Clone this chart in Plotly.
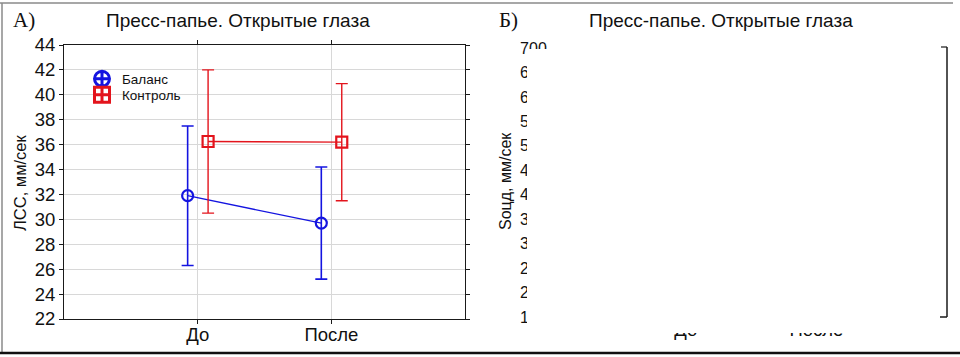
import plotly.graph_objects as go

# ---------------- data ----------------
categories = ["До", "После"]
balance_mean = [31.9, 29.7]
balance_err = [5.6, 4.5]
control_mean = [36.25, 36.2]
control_err = [5.75, 4.7]
series_names = ["Баланс", "Контроль"]
yA_ticks = [22, 24, 26, 28, 30, 32, 34, 36, 38, 40, 42, 44]
yB_ticks = [150, 200, 250, 300, 350, 400, 450, 500, 550, 600, 650, 700]
title_text = "Пресс-папье. Открытые глаза"
ytitle_A = "ЛСС, мм/сек"
ytitle_B = "Sоцд, мм/сек"

W, H = 960, 357
BLUE = "#1414e0"
RED = "#e3141c"
FONT = "Liberation Sans, Arial, sans-serif"

def px(x):
    return x / W

def py(y):
    return 1 - y / H

cat_pos = [1, 2]
dx_blue, dx_red = -0.075, 0.078

fig = go.Figure()

# Panel A traces
fig.add_trace(go.Scatter(
    x=[c + dx_blue for c in cat_pos], y=balance_mean,
    mode="lines+markers", name=series_names[0], showlegend=False,
    line=dict(color=BLUE, width=1.3),
    marker=dict(symbol="circle-open", size=11, color=BLUE, line=dict(width=2.2, color=BLUE)),
    error_y=dict(type="data", array=balance_err, visible=True, color=BLUE, thickness=1.6, width=6),
    xaxis="x", yaxis="y"))
fig.add_trace(go.Scatter(
    x=[c + dx_red for c in cat_pos], y=control_mean,
    mode="lines+markers", name=series_names[1], showlegend=False,
    line=dict(color=RED, width=1.3),
    marker=dict(symbol="square-open", size=11, color=RED, line=dict(width=2.2, color=RED)),
    error_y=dict(type="data", array=control_err, visible=True, color=RED, thickness=1.4, width=6),
    xaxis="x", yaxis="y"))

# legend-only entries
fig.add_trace(go.Scatter(
    x=[None], y=[None], mode="markers", name=series_names[0], legend="legend",
    marker=dict(symbol="circle-cross-open", size=15, color=BLUE, line=dict(width=3, color=BLUE)),
    xaxis="x", yaxis="y"))
fig.add_trace(go.Scatter(
    x=[None], y=[None], mode="markers", name=series_names[1], legend="legend2",
    marker=dict(symbol="square-cross-open", size=15, color=RED, line=dict(width=3, color=RED)),
    xaxis="x", yaxis="y"))

# Panel B (empty axes)
fig.add_trace(go.Scatter(x=[None], y=[None], mode="markers", showlegend=False,
                         xaxis="x2", yaxis="y2"))

grid = "#d8d8d8"
axis_common = dict(showline=True, linecolor="#1a1a1a", linewidth=1, mirror="ticks",
                   ticks="outside", ticklen=4, tickcolor="#1a1a1a", automargin=False,
                   tickfont=dict(family=FONT, size=18.5, color="#111"),
                   gridcolor=grid, gridwidth=1, zeroline=False)

fig.update_layout(
    template="none",
    width=W, height=H, autosize=False,
    margin=dict(l=0, r=0, t=0, b=0, pad=0, autoexpand=False),
    paper_bgcolor="white", plot_bgcolor="white",
    font=dict(family=FONT, color="#111"),
    xaxis=dict(domain=[px(64), px(465)], range=[0, 3], tickvals=cat_pos, ticktext=categories,
               showgrid=True, anchor="y", ticklabelstandoff=-5, **axis_common),
    yaxis=dict(domain=[py(319), py(45)], range=[22, 44], tickvals=yA_ticks,
               showgrid=True, anchor="x", **axis_common),
    xaxis2=dict(domain=[px(555), px(947)], range=[0, 3], tickvals=cat_pos, ticktext=categories,
                showgrid=False, showline=False, zeroline=False, ticks="", anchor="y2",
                automargin=False, ticklabelstandoff=-1,
                tickfont=dict(family=FONT, size=18.5, color="#111")),
    yaxis2=dict(domain=[py(317), py(48)], range=[150, 700], tickvals=yB_ticks,
                showgrid=False, showline=False, zeroline=False, ticks="outside", ticklen=4,
                tickcolor="white", anchor="x2", automargin=False,
                tickfont=dict(family=FONT, size=16, color="#111")),
    legend=dict(x=px(82), y=py(79), xanchor="left", yanchor="middle",
                font=dict(family=FONT, size=13.5, color="#111"), bgcolor="rgba(0,0,0,0)",
                borderwidth=0, itemsizing="trace"),
    legend2=dict(x=px(82), y=py(95), xanchor="left", yanchor="middle",
                 font=dict(family=FONT, size=13.5, color="#111"), bgcolor="rgba(0,0,0,0)",
                 borderwidth=0, itemsizing="trace"),
)

def ann(text, x, y, size, family=FONT, angle=0):
    return dict(text=text, x=px(x), y=py(y), xref="paper", yref="paper", showarrow=False,
                xanchor="center", yanchor="middle", textangle=angle,
                font=dict(family=family, size=size, color="#111"))

SERIF = "Liberation Serif, Times New Roman, serif"
annotations = [
    ann("А)", 24, 20, 21, SERIF),
    ann("Б)", 508, 20, 21, SERIF),
    ann(title_text, 238, 20, 19),
    ann(title_text, 721, 20, 19),
    ann(ytitle_A, 20, 183, 16.5, angle=-90),
    ann(ytitle_B, 505, 181, 16, angle=-90),
]
fig.update_layout(annotations=annotations)

shapes = [
    # white cover over panel B
    dict(type="rect", xref="paper", yref="paper", x0=px(527), x1=px(941), y0=py(333), y1=py(49),
         fillcolor="white", line=dict(width=0), layer="above"),
    # panel B right border with corners
    dict(type="line", xref="paper", yref="paper", x0=px(947), x1=px(947), y0=py(317), y1=py(47),
         line=dict(color="#1a1a1a", width=1.5), layer="above"),
    dict(type="line", xref="paper", yref="paper", x0=px(941), x1=px(947), y0=py(47), y1=py(47),
         line=dict(color="#1a1a1a", width=1.2), layer="above"),
    dict(type="line", xref="paper", yref="paper", x0=px(940), x1=px(947), y0=py(317), y1=py(317),
         line=dict(color="#1a1a1a", width=1.5), layer="above"),
    # outer frame
    dict(type="line", xref="paper", yref="paper", x0=0, x1=px(953), y0=py(3), y1=py(3),
         line=dict(color="#8a8a8a", width=1.5), layer="above"),
    dict(type="line", xref="paper", yref="paper", x0=px(2), x1=px(2), y0=py(3), y1=py(353),
         line=dict(color="#8a8a8a", width=1.5), layer="above"),
    dict(type="line", xref="paper", yref="paper", x0=0, x1=1, y0=py(353), y1=py(353),
         line=dict(color="#111", width=2.5), layer="above"),
]
fig.update_layout(shapes=shapes)

fig.write_html("out.html", config={"displayModeBar": False},
               post_script="document.body.style.margin='0';")
